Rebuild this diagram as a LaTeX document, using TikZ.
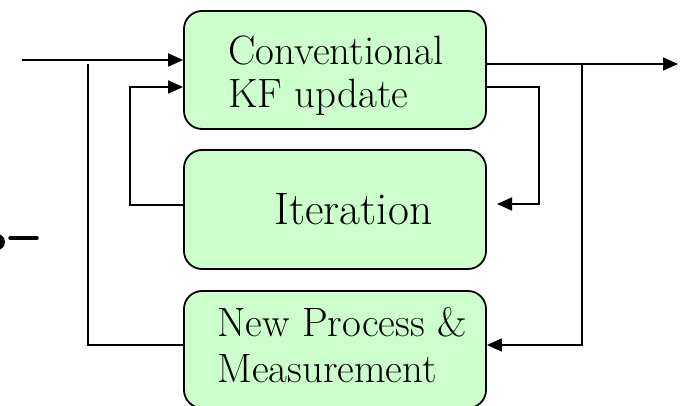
\documentclass[tikz,border=0pt]{standalone}
\usetikzlibrary{arrows.meta}
\begin{document}
\begin{tikzpicture}[x=1pt,y=-1pt,
  blk/.style={draw=black, line width=1.8pt, fill=green!20, rounded corners=18pt, minimum width=302pt, inner sep=0pt},
  txt/.style={anchor=base west, inner sep=0pt, font=\fontsize{41}{48}\selectfont},
  wire/.style={line width=1.8pt},
  arr/.style={line width=1.8pt, -{Triangle[length=15pt,width=13pt]}}]
\useasboundingbox (0,0) rectangle (681,406);
\clip (0,0) rectangle (681,406);
% boxes
\node[blk, minimum height=118pt] (b1) at (335,70) {};
\node[blk, minimum height=119pt] (b2) at (335,209.5) {};
\node[blk, minimum height=117pt] (b3) at (335,349.5) {};
% texts
\node[txt] (t1) at (228,65) {Conventional};
\node[txt] (t2) at (228,108) {KF update};
\node[txt, font=\fontsize{45.5}{52}\selectfont] (t3) at (274,225) {Iteration};
\node[txt] (t4) at (217,337) {New Process \&};
\node[txt] (t5) at (217,383) {Measurement};
% coordinates
\coordinate (in) at (22,60);
\coordinate (out) at (678,64);
\coordinate (ja) at (88,64);
\coordinate (jb) at (582,64);
\coordinate (lp) at (130,87);
\coordinate (rp) at (539,87);
\coordinate (itend) at (497,204);
% connectors
\draw[arr] (in) -- (in -| b1.west);
\draw[arr] (b1.east |- out) -- (out);
\draw[wire] (ja) |- (b3.west |- 0,345);
\draw[arr] (jb) |- (b3.east |- 0,345);
\draw[arr] (b2.west |- 0,205) -| (lp) -- (b1.west |- lp);
\draw[arr] (b1.east |- rp) -- (rp) |- (itend);
% cut-off fragment at left
\fill (-3,242) circle (8pt);
\draw[line width=3.5pt, line cap=round] (10,238) -- (37,238);
\end{tikzpicture}
\end{document}
